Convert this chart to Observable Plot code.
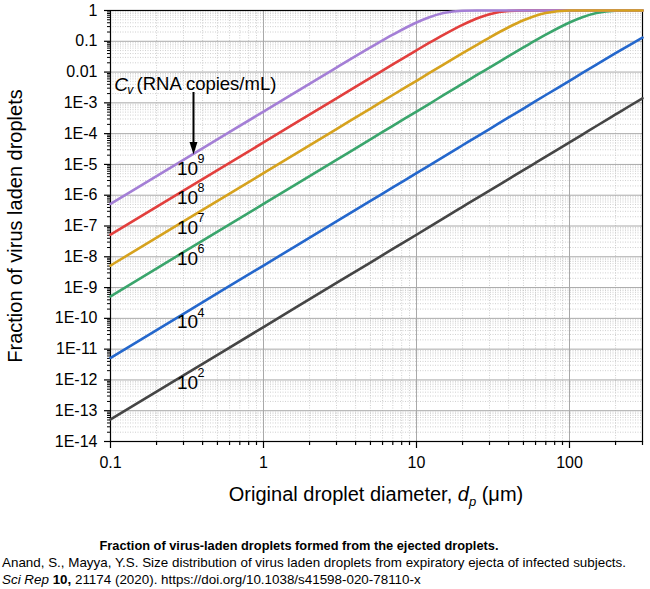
<!DOCTYPE html>
<html><head><meta charset="utf-8">
<script src="https://cdn.jsdelivr.net/npm/d3@7"></script>
<script src="https://cdn.jsdelivr.net/npm/@observablehq/plot@0.6"></script>
<style>
body{margin:0;background:#fff;}
#chart{width:650px;height:520px;}
.cap{font-family:"Liberation Sans",Arial,sans-serif;font-size:13.4px;color:#000;line-height:17px;white-space:nowrap;}
</style></head><body>
<div id="chart"></div>
<div class="cap" style="width:598px;text-align:center;font-weight:bold;font-size:12.8px;margin-top:17px">Fraction of virus-laden droplets formed from the ejected droplets.</div>
<div class="cap" style="padding-left:2px">Anand, S., Mayya, Y.S. Size distribution of virus laden droplets from expiratory ejecta of infected subjects.</div>
<div class="cap" style="padding-left:2px"><i>Sci Rep</i> <b>10,</b> 21174 (2020). https://doi.org/10.1038/s41598-020-78110-x</div>
<script>
// ---- data ----
const diameters = [0.1, 0.3, 1, 3, 5, 7, 10, 12, 15, 20, 25, 30, 40, 50, 60, 70, 100, 120, 150, 200, 250, 300];
const frac1e9 = [5.2e-7, 1.41e-5, 5.2e-4, 0.014, 0.063, 0.164, 0.408, 0.595, 0.829, 0.985, 0.9997, 1, 1, 1, 1, 1, 1, 1, 1, 1, 1, 1];
const frac1e8 = [5.2e-8, 1.41e-6, 5.2e-5, 1.41e-3, 6.5e-3, 0.0178, 0.051, 0.0865, 0.162, 0.342, 0.559, 0.757, 0.965, 0.9986, 1, 1, 1, 1, 1, 1, 1, 1];
const frac1e7 = [5.2e-9, 1.41e-7, 5.2e-6, 1.41e-4, 6.5e-4, 1.8e-3, 5.2e-3, 9.0e-3, 0.0175, 0.041, 0.0785, 0.132, 0.285, 0.48, 0.677, 0.834, 0.9947, 0.9999, 1, 1, 1, 1];
const frac1e6 = [5.2e-10, 1.41e-8, 5.2e-7, 1.41e-5, 6.5e-5, 1.8e-4, 5.2e-4, 9.0e-4, 1.77e-3, 4.2e-3, 8.2e-3, 0.014, 0.033, 0.0633, 0.107, 0.164, 0.408, 0.595, 0.829, 0.985, 0.9997, 1];
const frac1e4 = [5.2e-12, 1.41e-10, 5.2e-9, 1.41e-7, 6.5e-7, 1.8e-6, 5.2e-6, 9.0e-6, 1.77e-5, 4.2e-5, 8.2e-5, 1.41e-4, 3.35e-4, 6.5e-4, 1.13e-3, 1.8e-3, 5.2e-3, 9.0e-3, 0.0175, 0.041, 0.0785, 0.132];
const frac1e2 = [5.2e-14, 1.41e-12, 5.2e-11, 1.41e-9, 6.5e-9, 1.8e-8, 5.2e-8, 9.0e-8, 1.77e-7, 4.2e-7, 8.2e-7, 1.41e-6, 3.35e-6, 6.5e-6, 1.13e-5, 1.8e-5, 5.2e-5, 9.0e-5, 1.77e-4, 4.2e-4, 8.2e-4, 1.41e-3];
const seriesNames = ["1e2", "1e4", "1e6", "1e8", "1e9", "1e7"];
const seriesValues = [frac1e2, frac1e4, frac1e6, frac1e8, frac1e9, frac1e7];
const seriesColors = ["#454545", "#2467cc", "#3aa56c", "#e23f3d", "#a47fd6", "#d6a21e"];

const xMajorTicks = [0.1, 1, 10, 100];
const xMajorLabels = ["0.1", "1", "10", "100"];
const yMajorTicks = [1e-14, 1e-13, 1e-12, 1e-11, 1e-10, 1e-9, 1e-8, 1e-7, 1e-6, 1e-5, 1e-4, 1e-3, 1e-2, 1e-1, 1];
const yMajorLabels = ["1E-14", "1E-13", "1E-12", "1E-11", "1E-10", "1E-9", "1E-8", "1E-7", "1E-6", "1E-5", "1E-4", "1E-3", "0.01", "0.1", "1"];
const minorMult = [2, 3, 4, 5, 6, 7, 8, 9];

// concentration labels (exponent, position in data space)
const cvLabelExp = ["9", "8", "7", "6", "4", "2"];
const cvLabelY = [7.4e-6, 8.45e-7, 8.95e-8, 8.8e-9, 7.4e-11, 8.3e-13];

// ---- build ----
const rows = [];
seriesNames.forEach((name, s) => diameters.forEach((d, i) => rows.push({cv: name, d, f: seriesValues[s][i]})));
const xMinor = xMajorTicks.flatMap(t => minorMult.map(m => t * m)).filter(v => v <= 300);
const yMinor = yMajorTicks.slice(0, -1).flatMap(t => minorMult.map(m => t * m));
const labels = cvLabelExp.map((e, i) => ({e, y: cvLabelY[i]}));
const xFmt = v => xMajorLabels[xMajorTicks.indexOf(v)] ?? "";
const yFmt = v => { const i = yMajorTicks.findIndex(t => Math.abs(Math.log10(t) - Math.log10(v)) < 1e-6); return i >= 0 ? yMajorLabels[i] : ""; };

const labelX = 0.272, arrowX = 0.3487;
const downTri = {draw(ctx, size) { const s = Math.sqrt(size); ctx.moveTo(0, 0); ctx.lineTo(-0.32 * s, -s); ctx.lineTo(0.32 * s, -s); ctx.closePath(); }};

const W = 650, H = 520, ML = 110, MR = 8, MT = 10, MB = 79;
const font = "'Liberation Sans', Arial, sans-serif";

const plot = Plot.plot({
  width: W, height: H, marginLeft: ML, marginRight: MR, marginTop: MT, marginBottom: MB,
  x: {type: "log", domain: [0.1, 300]},
  y: {type: "log", domain: [1e-14, 1]},
  color: {domain: seriesNames, range: seriesColors},
  style: {fontFamily: font, fontSize: "16px", color: "black", background: "white", overflow: "visible"},
  marks: [
    Plot.gridX(xMinor, {stroke: "#c4c4c4", strokeOpacity: 1, strokeDasharray: "1,1.5", strokeWidth: 0.8}),
    Plot.gridY(yMinor, {stroke: "#c4c4c4", strokeOpacity: 1, strokeDasharray: "1,1.5", strokeWidth: 0.8}),
    Plot.gridX(xMajorTicks, {stroke: "#a9a9a9", strokeOpacity: 1, strokeWidth: 1}),
    Plot.gridY(yMajorTicks, {stroke: "#a9a9a9", strokeOpacity: 1, strokeWidth: 1}),
    Plot.frame({stroke: "black", strokeWidth: 1.2}),
    Plot.axisX(xMinor, {tickSize: 4, tickFormat: () => "", label: null, strokeWidth: 1.2}),
    Plot.axisX(xMajorTicks, {tickSize: 7, tickPadding: 8, tickFormat: xFmt, label: null, fontSize: 16, strokeWidth: 1.2}),
    Plot.axisY(yMinor, {tickSize: 3, tickFormat: () => "", label: null, strokeWidth: 1}),
    Plot.axisY(yMajorTicks, {tickSize: 6, tickPadding: 7, tickFormat: yFmt, label: null, fontSize: 16, strokeWidth: 1.2}),
    Plot.line(rows, {x: "d", y: "f", z: "cv", stroke: "cv", strokeWidth: 2.6, curve: "monotone-x"}),
    // annotation
    Plot.text(["C"], {x: 0.106, y: 3.95e-3, textAnchor: "start", fontSize: 19, fontStyle: "italic"}),
    Plot.text(["v"], {x: 0.106, y: 3.95e-3, dx: 13, dy: 6, textAnchor: "start", fontSize: 12, fontStyle: "italic"}),
    Plot.text(["(RNA copies/mL)"], {x: 0.148, y: 3.95e-3, textAnchor: "start", fontSize: 18.5}),
    Plot.ruleX([arrowX], {y1: 2.17e-3, y2: 4.5e-5, strokeWidth: 2}),
    Plot.dot([arrowX], {x: d => d, y: () => 2.1e-5, symbol: downTri, r: 7, fill: "black", stroke: null}),
    Plot.text(labels, {x: () => labelX, y: "y", text: () => "10", textAnchor: "start", fontSize: 19}),
    Plot.text(labels, {x: () => labelX, y: "y", text: "e", dx: 20.5, dy: -9, textAnchor: "start", fontSize: 12.5}),
    Plot.text(["Fraction of virus laden droplets"], {frameAnchor: "left", dx: -95, rotate: -90, textAnchor: "middle", lineAnchor: "middle", fontSize: 20})
  ]
});

const svg = d3.select(plot);
const t = svg.append("text")
  .attr("x", (ML + W - MR) / 2).attr("y", 501)
  .attr("text-anchor", "middle").attr("font-size", 20).attr("font-family", font).attr("fill", "black");
t.append("tspan").text("Original droplet diameter, ");
t.append("tspan").attr("font-style", "italic").text("d");
t.append("tspan").attr("font-style", "italic").attr("font-size", 13).attr("dy", 5).text("p");
t.append("tspan").attr("dy", -5).text(" (\u03BCm)");

document.getElementById("chart").appendChild(plot);
</script>
</body></html>
